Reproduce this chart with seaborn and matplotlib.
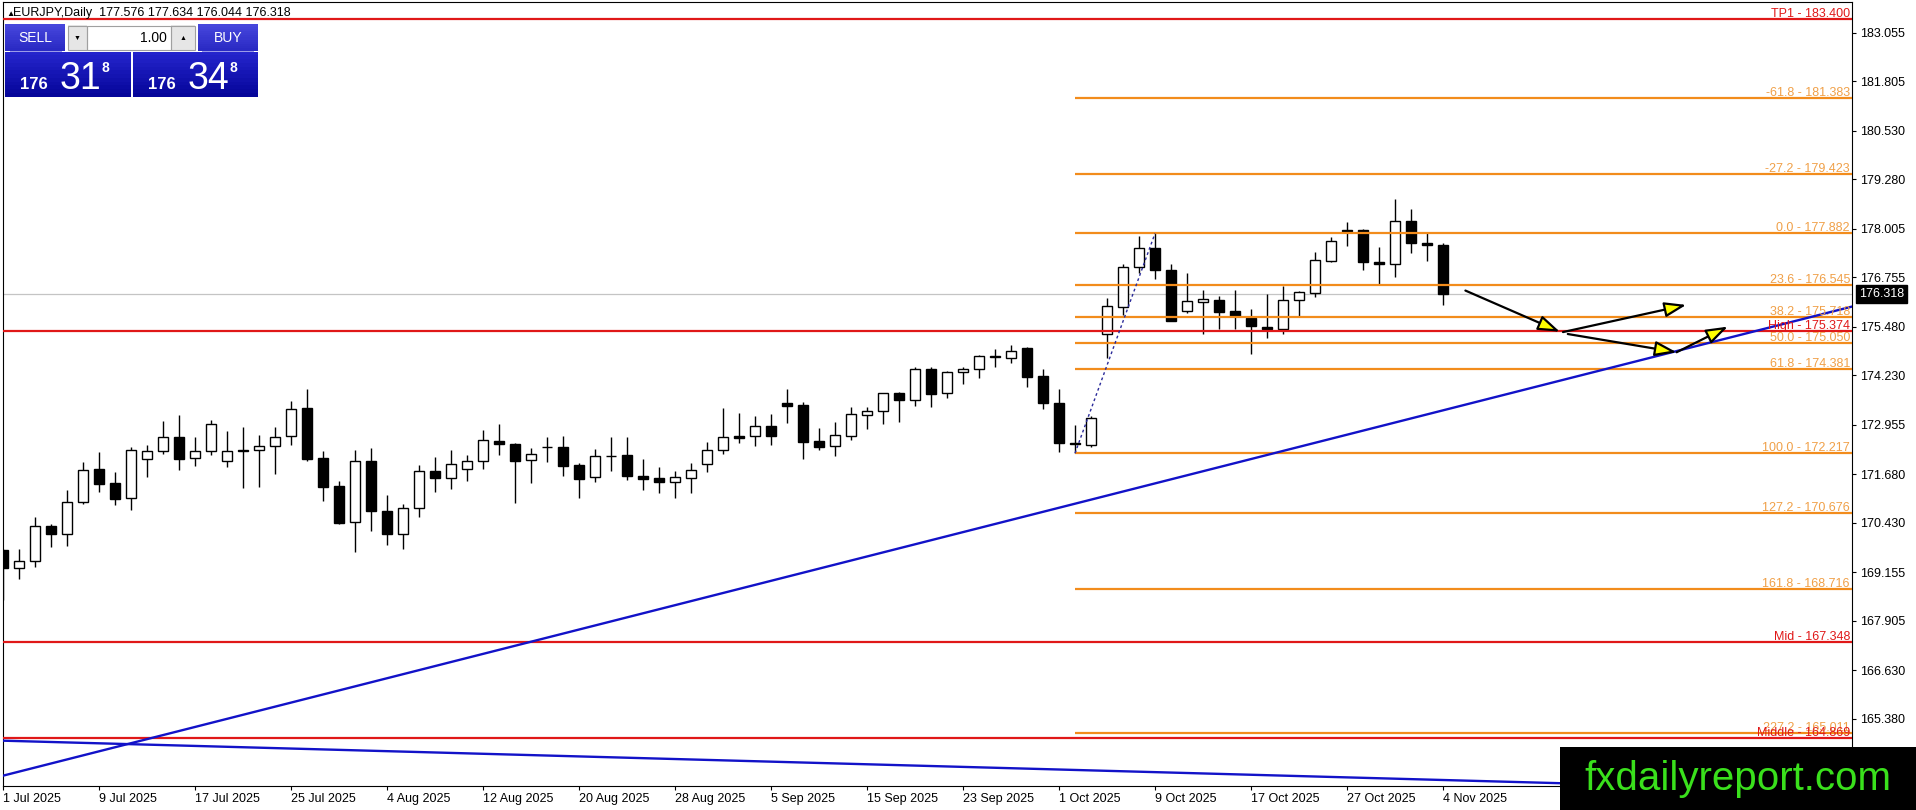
import matplotlib
matplotlib.use('Agg')
import matplotlib.pyplot as plt
import matplotlib.transforms as mtransforms
from matplotlib.patches import Rectangle
import numpy as np
import seaborn as sns

# EURJPY daily candles, 1 Jul 2025 .. 4 Nov 2025
opens = [169.724, 169.252, 169.432, 170.343, 170.128, 170.953, 171.812, 171.442, 171.056, 172.061,
         172.267, 172.636, 172.087, 172.267, 172.009, 172.301, 172.293, 172.396, 172.654, 173.375,
         172.087, 171.374, 170.437, 172.018, 170.729, 170.128, 170.798, 171.760, 171.571, 171.803,
         172.009, 172.533, 172.447, 172.034, 172.387, 172.378, 171.914, 171.596, 172.155, 172.172,
         171.631, 171.579, 171.485, 171.588, 171.949, 172.292, 172.662, 172.653, 172.911, 173.503,
         173.452, 172.524, 172.395, 172.670, 173.194, 173.297, 173.761, 173.581, 174.380, 173.761,
         174.303, 174.380, 174.700, 174.664, 174.921, 174.200, 173.504, 172.473, 172.430, 175.282,
         175.995, 177.009, 177.499, 176.940, 175.892, 176.107, 176.167, 175.884, 175.712, 175.471,
         175.428, 176.158, 176.356, 177.181, 177.954, 177.962, 177.138, 177.086, 178.194, 177.627,
         177.576]
highs = [169.750, 169.750, 170.583, 170.386, 171.271, 171.992, 172.250, 171.726, 172.370, 172.422,
         173.049, 173.203, 172.636, 173.066, 172.791, 172.894, 172.679, 172.894, 173.564, 173.874,
         172.276, 171.494, 172.301, 172.353, 171.142, 170.910, 171.906, 172.121, 172.301, 172.164,
         172.817, 172.971, 172.490, 172.352, 172.636, 172.662, 171.957, 172.318, 172.636, 172.636,
         172.069, 171.863, 171.760, 171.966, 172.507, 173.383, 173.254, 173.177, 173.229, 173.873,
         173.529, 172.868, 173.022, 173.409, 173.409, 173.770, 173.804, 174.449, 174.449, 174.337,
         174.449, 174.749, 174.895, 174.999, 174.947, 174.380, 173.865, 172.937, 173.186, 176.219,
         177.095, 177.816, 177.882, 177.095, 176.863, 176.425, 176.270, 176.433, 175.935, 176.322,
         176.536, 176.399, 177.404, 177.791, 178.169, 177.988, 177.533, 178.761, 178.504, 177.928,
         177.634]
lows = [168.435, 168.985, 169.277, 169.810, 169.836, 170.910, 171.228, 170.893, 170.764, 171.614,
        172.207, 171.795, 171.898, 172.181, 171.872, 171.314, 171.339, 171.691, 172.439, 172.027,
        170.996, 170.403, 169.681, 170.222, 169.862, 169.759, 170.566, 171.228, 171.305, 171.511,
        171.820, 172.181, 170.926, 171.459, 172.000, 171.639, 171.072, 171.485, 171.768, 171.528,
        171.270, 171.201, 171.072, 171.201, 171.742, 172.206, 172.490, 172.413, 172.438, 173.005,
        172.077, 172.309, 172.155, 172.567, 172.851, 172.979, 173.031, 173.443, 173.418, 173.650,
        173.999, 174.165, 174.449, 174.552, 173.933, 173.349, 172.258, 172.217, 172.370, 174.664,
        175.780, 176.854, 176.717, 175.617, 175.832, 175.299, 175.420, 175.420, 174.767, 175.196,
        175.299, 175.755, 176.253, 177.155, 177.567, 176.940, 176.562, 176.751, 177.370, 177.181,
        176.044]
closes = [169.252, 169.432, 170.343, 170.128, 170.953, 171.777, 171.434, 171.047, 172.293, 172.267,
          172.628, 172.078, 172.267, 172.963, 172.267, 172.267, 172.396, 172.628, 173.350, 172.078,
          171.356, 170.429, 172.009, 170.738, 170.128, 170.807, 171.760, 171.571, 171.932, 172.018,
          172.551, 172.447, 172.026, 172.189, 172.370, 171.897, 171.562, 172.138, 172.138, 171.622,
          171.562, 171.485, 171.596, 171.777, 172.292, 172.627, 172.619, 172.911, 172.670, 173.443,
          172.516, 172.387, 172.679, 173.220, 173.297, 173.761, 173.581, 174.380, 173.753, 174.303,
          174.380, 174.715, 174.710, 174.861, 174.191, 173.504, 172.473, 172.447, 173.117, 176.004,
          177.009, 177.499, 176.949, 175.634, 176.133, 176.184, 175.866, 175.763, 175.506, 175.428,
          176.158, 176.365, 177.189, 177.679, 177.962, 177.155, 177.086, 178.194, 177.645, 177.576,
          176.318]

date_labels = ['1 Jul 2025', '9 Jul 2025', '17 Jul 2025', '25 Jul 2025', '4 Aug 2025', '12 Aug 2025',
               '20 Aug 2025', '28 Aug 2025', '5 Sep 2025', '15 Sep 2025', '23 Sep 2025', '1 Oct 2025',
               '9 Oct 2025', '17 Oct 2025', '27 Oct 2025', '4 Nov 2025']
label_step = 6

ytick_values = [183.055, 181.805, 180.530, 179.280, 178.005, 176.755, 175.480, 174.230,
                172.955, 171.680, 170.430, 169.155, 167.905, 166.630, 165.380]

fib_names = ['-61.8', '-27.2', '0.0', '23.6', '38.2', '50.0', '61.8', '100.0', '127.2', '161.8', '227.2']
fib_prices = [181.383, 179.423, 177.882, 176.545, 175.718, 175.050, 174.381, 172.217, 170.676, 168.716, 165.011]
fib_start = 67

red_names = ['TP1', 'High', 'Mid', 'Middle']
red_prices = [183.400, 175.374, 167.348, 164.869]

last_price = 176.318
title_ohlc = '177.576 177.634 176.044 176.318'
bid_parts = ['176', '31', '8']
ask_parts = ['176', '34', '8']
lot_size = '1.00'

# trend lines as (bar, price) anchors
up_trend = [(0, 163.907), (115.56, 175.997)]
down_trend = [(0, 164.809), (100, 163.683)]
fib_swing_x = [67, 72]
fib_swing_y = [172.217, 177.882]

arrow_starts = [(91.4, 176.41), (97.5, 175.34), (97.8, 175.29), (104.6, 174.82)]
arrow_ends = [(97.3, 175.35), (105.2, 176.04), (104.6, 174.82), (107.8, 175.48)]

# ---------------------------------------------------------------
sns.set_theme(style='white')
plt.rcParams['font.family'] = ['Liberation Sans', 'DejaVu Sans']

W, H = 1916, 810
ORANGE = '#f28c1c'
ORANGE_TXT = '#f0a048'
RED = '#e01818'
BLUE = '#1212c8'

fig = plt.figure(figsize=(W / 100, H / 100), dpi=100)
fig.patch.set_facecolor('white')
ax = fig.add_axes([3 / W, (H - 786) / H, (1852 - 3) / W, (786 - 2) / H])
ax.set_facecolor('white')
ax.set_xlim(0, (1852 - 3) / 16)
ax.set_ylim(163.641, 183.847)

n = len(opens)
xs = np.arange(n)
o = np.array(opens)
c = np.array(closes)

# current price line
ax.axhline(last_price, color='#c4c4c4', lw=0.9, zorder=1)

# candles
ax.vlines(xs, lows, highs, color='black', lw=1.0, zorder=3)
up = c >= o
ax.bar(xs[up], np.maximum(c[up] - o[up], 0.012), bottom=o[up], width=0.6,
       color='white', edgecolor='black', linewidth=1.0, zorder=4)
ax.bar(xs[~up], np.maximum(o[~up] - c[~up], 0.012), bottom=c[~up], width=0.6,
       color='black', edgecolor='black', linewidth=1.0, zorder=4)

# horizontal levels
xmax = ax.get_xlim()[1]
for name, price in zip(red_names, red_prices):
    ax.axhline(price, color=RED, lw=1.6, zorder=5)
ax.hlines(fib_prices, fib_start, xmax, color=ORANGE, lw=1.6, zorder=5)

lbl_tr = mtransforms.blended_transform_factory(ax.transAxes, ax.transData)
for name, price in zip(fib_names, fib_prices):
    ax.annotate(f'{name} - {price:.3f}', xy=(1, price), xycoords=lbl_tr, xytext=(-2, 2),
                textcoords='offset pixels', ha='right', va='baseline', fontsize=9,
                color=ORANGE_TXT, zorder=8)
for name, price in zip(red_names, red_prices):
    ax.annotate(f'{name} - {price:.3f}', xy=(1, price), xycoords=lbl_tr, xytext=(-2, 2),
                textcoords='offset pixels', ha='right', va='baseline', fontsize=9,
                color=RED, zorder=8)

# trend lines
ax.axline(up_trend[0], up_trend[1], color=BLUE, lw=1.7, zorder=6)
ax.axline(down_trend[0], down_trend[1], color=BLUE, lw=1.7, zorder=6)
sns.lineplot(x=fib_swing_x, y=fib_swing_y, ax=ax, color='#2a2a9a', lw=1.0,
             linestyle=(0, (2, 2)), zorder=6)

# projection arrows
for s, e in zip(arrow_starts, arrow_ends):
    ax.annotate('', xy=e, xytext=s,
                arrowprops=dict(arrowstyle='-|>,head_length=1.1,head_width=0.38',
                                fc='yellow', ec='black', lw=1.6, shrinkA=0, shrinkB=0),
                zorder=7)

# axes styling
for sp in ax.spines.values():
    sp.set_visible(True)
    sp.set_color('black')
    sp.set_linewidth(0.8)
ax.yaxis.tick_right()
ax.set_yticks(ytick_values)
ax.set_yticklabels([f'{v:.3f}' for v in ytick_values])
ax.set_xticks(np.arange(len(date_labels)) * label_step)
ax.set_xticklabels(date_labels)
ax.tick_params(axis='y', right=True, left=False, length=3, width=0.8, pad=3,
               labelsize=9, colors='black')
ax.tick_params(axis='x', bottom=True, length=3, width=0.8, pad=2, labelsize=9, colors='black')
plt.setp(ax.get_xticklabels(), ha='left')
ax.grid(False)

ax.annotate(f'{last_price:.3f}', xy=(1, last_price), xycoords=lbl_tr, xytext=(7, 0),
            textcoords='offset pixels', ha='left', va='center', fontsize=9, color='white',
            bbox=dict(boxstyle='square,pad=0.25', fc='black', ec='black'),
            annotation_clip=False)


# ---- header / one-click panel (pixel coords, origin top-left)
def fx(x):
    return x / W


def fy(y):
    return 1 - y / H


def box(x0, y0, x1, y1, top, bottom=None, edge=None, bands=12):
    bottom = top if bottom is None else bottom
    t = np.array(matplotlib.colors.to_rgb(top))
    b = np.array(matplotlib.colors.to_rgb(bottom))
    h = (y1 - y0) / bands
    for k in range(bands):
        col = t + (b - t) * k / max(bands - 1, 1)
        fig.add_artist(Rectangle((fx(x0), fy(y0 + (k + 1) * h)), fx(x1 - x0), (h + 0.5) / H,
                                 transform=fig.transFigure, fc=col, ec='none', zorder=20))
    if edge:
        fig.add_artist(Rectangle((fx(x0), fy(y1)), fx(x1 - x0), (y1 - y0) / H,
                                 transform=fig.transFigure, fc='none', ec=edge, lw=0.8, zorder=21))


fig.text(fx(6), fy(16), '▲', fontsize=6, color='black', va='baseline', zorder=22)
fig.text(fx(13), fy(16), 'EURJPY,Daily  ' + title_ohlc, fontsize=9, color='black',
         va='baseline', zorder=22)

box(5, 25, 65, 51, '#4646dc', '#2a2ac4')
box(198, 25, 258, 51, '#4646dc', '#2a2ac4')
box(68, 26, 87, 50, '#e6e6e6', edge='#a0a0a0')
box(87, 26, 171, 50, '#ffffff', edge='#a0a0a0')
box(171, 26, 195, 50, '#e6e6e6', edge='#a0a0a0')
box(5, 52, 131, 97, '#2424cc', '#06069a')
box(133, 52, 258, 97, '#2424cc', '#06069a')
fig.add_artist(Rectangle((fx(10), fy(52)), fx(52), 1 / H, transform=fig.transFigure,
                         fc='#9a9ae8', ec='none', zorder=21))
fig.add_artist(Rectangle((fx(202), fy(52)), fx(52), 1 / H, transform=fig.transFigure,
                         fc='#9a9ae8', ec='none', zorder=21))

fig.text(fx(35), fy(38), 'SELL', fontsize=10, color='white', ha='center', va='center', zorder=22)
fig.text(fx(228), fy(38), 'BUY', fontsize=10, color='white', ha='center', va='center', zorder=22)
fig.text(fx(77), fy(38), '▼', fontsize=5, color='black', ha='center', va='center', zorder=22)
fig.text(fx(183), fy(38), '▲', fontsize=5, color='black', ha='center', va='center', zorder=22)
fig.text(fx(167), fy(38), lot_size, fontsize=10, color='black', ha='right', va='center', zorder=22)

for parts, x0 in [(bid_parts, 20), (ask_parts, 148)]:
    fig.text(fx(x0), fy(89), parts[0], fontsize=12, fontweight='bold', color='white',
             va='baseline', zorder=22)
    fig.text(fx(x0 + 40), fy(89), parts[1], fontsize=27, color='white', va='baseline', zorder=22)
    fig.text(fx(x0 + 81), fy(72), parts[2], fontsize=10, fontweight='bold', color='white',
             va='baseline', zorder=22)

# watermark
fig.add_artist(Rectangle((fx(1560), 0), fx(W - 1560), (H - 747) / H, transform=fig.transFigure,
                         fc='black', ec='none', zorder=20))
fig.text(fx(1738), fy(779), 'fxdailyreport.com', fontsize=29, color='#3ae01c',
         ha='center', va='center', zorder=22)

fig.savefig('out.png', dpi=100)
